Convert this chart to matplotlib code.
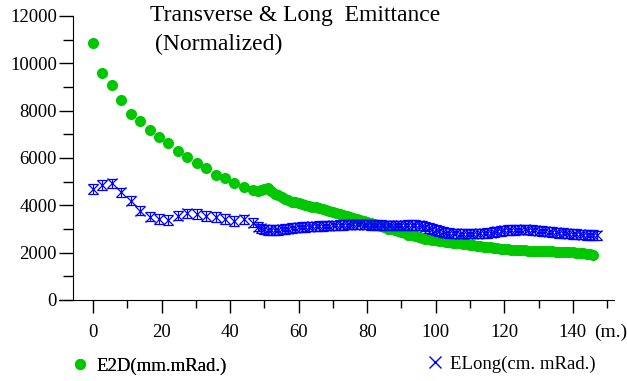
import matplotlib
matplotlib.use('Agg')
from matplotlib import pyplot as plt
from matplotlib.lines import Line2D
from matplotlib.ticker import FixedLocator

plt.rcParams['font.family'] = ['Liberation Serif', 'DejaVu Serif']

# distance along the line (m.) - sparse at the start, then every metre
dist = [0, 2.75, 5.5, 8.25, 11, 13.75, 16.5, 19.25, 22, 24.75, 27.5, 30.25,
        33, 35.75, 38.5, 41.25, 44, 46.75,
        48, 49, 50, 51, 52, 53, 54, 55, 56, 57, 58, 59, 60, 61, 62, 63, 64,
        65, 66, 67, 68, 69, 70, 71, 72, 73, 74, 75, 76, 77, 78, 79, 80, 81,
        82, 83, 84, 85, 86, 87, 88, 89, 90, 91, 92, 93, 94, 95, 96, 97, 98,
        99, 100, 101, 102, 103, 104, 105, 106, 107, 108, 109, 110, 111, 112,
        113, 114, 115, 116, 117, 118, 119, 120, 121, 122, 123, 124, 125, 126,
        127, 128, 129, 130, 131, 132, 133, 134, 135, 136, 137, 138, 139, 140,
        141, 142, 143, 144, 145, 146, 147]

# transverse emittance E2D (mm.mRad.), last sample at 146 m
e2d = [10850, 9600, 9090, 8450, 7860, 7560, 7180, 6890, 6630, 6300, 6040,
       5790, 5580, 5290, 5160, 4950, 4780, 4650,
       4620, 4650, 4700, 4720, 4600, 4500, 4420, 4340, 4280, 4220, 4160,
       4120, 4080, 4050, 4020, 3985, 3950, 3915, 3880, 3835, 3790, 3750,
       3710, 3670, 3630, 3595, 3560, 3515, 3470, 3425, 3380, 3340, 3300,
       3250, 3200, 3155, 3110, 3065, 3020, 2985, 2950, 2905, 2860, 2810,
       2760, 2730, 2700, 2660, 2620, 2590, 2560, 2540, 2520, 2500, 2480,
       2460, 2440, 2425, 2410, 2395, 2380, 2360, 2340, 2320, 2300, 2280,
       2260, 2245, 2230, 2210, 2190, 2175, 2160, 2145, 2130, 2120, 2110,
       2105, 2100, 2090, 2080, 2075, 2070, 2065, 2060, 2055, 2050, 2045,
       2040, 2035, 2030, 2020, 2010, 1995, 1980, 1965, 1950, 1925, 1900]

# longitudinal emittance ELong (cm. mRad.), last sample at 147 m
elong = [4690, 4860, 4930, 4550, 4200, 3780, 3520, 3420, 3380, 3560, 3660,
         3630, 3550, 3500, 3420, 3340, 3410, 3270,
         3100, 3030, 2980, 2960, 2950, 2950, 2960, 2980, 3000, 3020, 3040,
         3055, 3070, 3080, 3090, 3100, 3110, 3115, 3120, 3130, 3140, 3145,
         3150, 3155, 3160, 3170, 3180, 3190, 3200, 3200, 3200, 3190, 3180,
         3175, 3170, 3165, 3160, 3155, 3150, 3150, 3150, 3150, 3150, 3155,
         3160, 3160, 3160, 3150, 3140, 3100, 3050, 3000, 2950, 2910, 2880,
         2850, 2830, 2820, 2810, 2805, 2800, 2800, 2800, 2800, 2800, 2810,
         2820, 2835, 2850, 2875, 2900, 2920, 2940, 2950, 2960, 2965, 2970,
         2975, 2980, 2970, 2960, 2945, 2930, 2915, 2900, 2885, 2870, 2855,
         2840, 2825, 2810, 2800, 2790, 2780, 2770, 2760, 2750, 2745, 2740,
         2735]

green = '#00c800'
blue = '#0000ff'

fig = plt.figure(figsize=(6.27, 3.81), dpi=100)
ax = fig.add_axes([58.7 / 627, 81 / 381, 555.3 / 627, 284 / 381])

ax.errorbar(dist[:len(e2d)], e2d, yerr=150, fmt='o', color=green, ms=8,
            mew=0, elinewidth=1, capsize=4, capthick=1.5, zorder=2)
ax.errorbar(dist[:len(elong)], elong, yerr=200, fmt='x', color=blue, ms=7,
            mew=0.9, elinewidth=0.8, capsize=3.5, capthick=0.8, zorder=3)

ax.set_xlim(-10, 152)
ax.set_ylim(0, 12000)

for s in ['top', 'right']:
    ax.spines[s].set_visible(False)
ax.spines['left'].set_position(('data', -5.8))
ax.spines['bottom'].set_bounds(-10, 152)

ax.xaxis.set_major_locator(FixedLocator(range(0, 141, 20)))
ax.xaxis.set_minor_locator(FixedLocator(range(10, 151, 20)))
ax.yaxis.set_major_locator(FixedLocator(range(0, 12001, 2000)))
ax.yaxis.set_minor_locator(FixedLocator(range(1000, 12000, 2000)))
ax.tick_params(axis='x', which='major', length=9.5, width=1, pad=8, labelsize=13.5)
ax.tick_params(axis='x', which='minor', length=6, width=1)
ax.tick_params(axis='y', which='major', length=10, width=1, pad=1.5, labelsize=13.5)
ax.tick_params(axis='y', which='minor', length=7, width=1)

fig.text(150 / 627, 1 - 16 / 381, 'Transverse & Long  Emittance', fontsize=17,
         va='center', ha='left')
fig.text(155 / 627, 1 - 44 / 381, '(Normalized)', fontsize=17,
         va='center', ha='left')
fig.text(594 / 627, 1 - 332 / 381, '(m.)', fontsize=14, va='center', ha='left')

# two separate legend entries, bottom left and bottom right
h1 = Line2D([], [], ls='none', marker='o', color=green, ms=8, mew=0)
h2 = Line2D([], [], ls='none', marker='x', color=blue, ms=8, mew=1)
leg1 = fig.legend([h1], ['E2D(mm.mRad.)'], loc='center left',
                  bbox_to_anchor=(70.6 / 627, 1 - 366 / 381), frameon=False,
                  fontsize=13.5, handlelength=1, handletextpad=0.4,
                  borderpad=0, borderaxespad=0)
fig.add_artist(leg1)
fig.legend([h2], ['ELong(cm. mRad.)'], loc='center left',
           bbox_to_anchor=(425.6 / 627, 1 - 364 / 381), frameon=False,
           fontsize=13.5, handlelength=1, handletextpad=0.3,
           borderpad=0, borderaxespad=0)

plt.savefig('out.png', dpi=100)
